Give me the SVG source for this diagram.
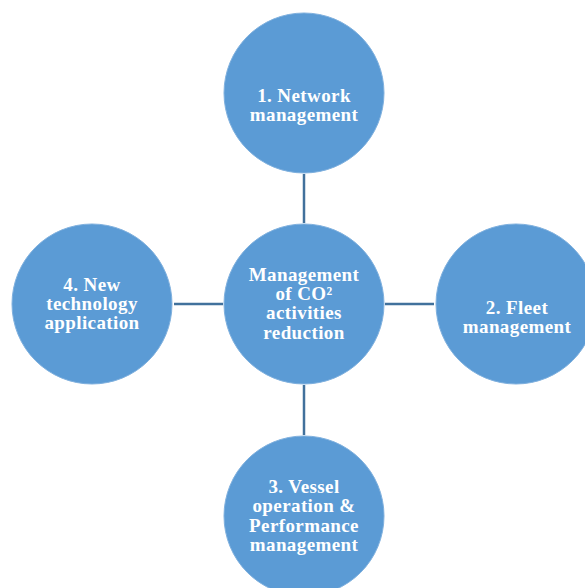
<svg xmlns="http://www.w3.org/2000/svg" width="585" height="588" viewBox="0 0 585 588">
  <style>
    .node circle { fill: #5B9BD5; stroke: #7FB0DE; stroke-width: 1; }
    .node text { fill: #ffffff; font-family: "Liberation Serif", "DejaVu Serif", serif; font-weight: bold; font-size: 19px; letter-spacing: 0.4px; text-anchor: middle; }
    .link { stroke: #41719C; stroke-width: 2.5; fill: none; }
  </style>
  <rect width="585" height="588" fill="#ffffff"/>

  <!-- spokes from the hub to each outer circle -->
  <g id="connectors">
    <line class="link" x1="304" y1="174" x2="304" y2="223"/>
    <line class="link" x1="174" y1="304" x2="223" y2="304"/>
    <line class="link" x1="385" y1="304" x2="434" y2="304"/>
    <line class="link" x1="304" y1="385" x2="304" y2="435"/>
  </g>

  <g id="hub" class="node">
    <circle cx="304" cy="304" r="80"/>
    <text x="304" y="281">Management</text>
    <text x="304" y="300">of CO²</text>
    <text x="304" y="319">activities</text>
    <text x="304" y="339">reduction</text>
  </g>

  <g id="network" class="node">
    <circle cx="304" cy="93" r="80"/>
    <text x="304" y="102">1. Network</text>
    <text x="304" y="121">management</text>
  </g>

  <g id="fleet" class="node">
    <circle cx="516" cy="304" r="80"/>
    <text x="517" y="314">2. Fleet</text>
    <text x="517" y="333">management</text>
  </g>

  <g id="vessel" class="node">
    <circle cx="304" cy="516" r="80"/>
    <text x="304" y="493">3. Vessel</text>
    <text x="304" y="512">operation &amp;</text>
    <text x="304" y="532">Performance</text>
    <text x="304" y="551">management</text>
  </g>

  <g id="technology" class="node">
    <circle cx="92" cy="304" r="80"/>
    <text x="92" y="291">4. New</text>
    <text x="92" y="310">technology</text>
    <text x="92" y="329">application</text>
  </g>
</svg>
